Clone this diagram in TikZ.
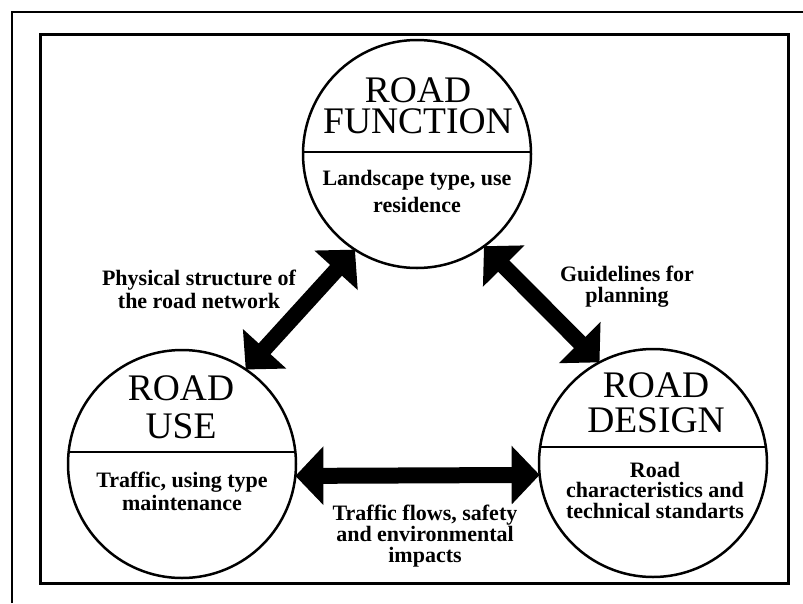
\documentclass[tikz,border=0pt]{standalone}
\usepackage{fontspec}
\setmainfont{Liberation Serif}
\usetikzlibrary{arrows.meta}
\tikzset{
  circ/.style={circle, draw, line width=2.5pt, minimum size=228pt, inner sep=0pt, outer sep=0pt},
  divider/.style={line width=2.2pt},
  titletext/.style={align=center, inner sep=0pt, anchor=base, font=\fontsize{37.5}{#1}\selectfont},
  bodytext/.style={align=center, inner sep=0pt, anchor=base, font=\fontsize{22}{#1}\selectfont\bfseries},
  bigarrow/.style={line width=16pt, {Triangle[length=28pt,width=57pt]}-{Triangle[length=28pt,width=57pt]}},
}
\begin{document}
\begin{tikzpicture}[x=1pt,y=-1pt]
\useasboundingbox (0,0) rectangle (803,603);
% frames
\draw[line width=2pt] (12,603) -- (12,12) -- (803,12);
\draw[line width=3pt] (40,34) rectangle (788,583);
% circles
\node[circ] (F) at (417,154) {};
\node[circ] (U) at (182,464) {};
\node[circ] (D) at (653,463) {};
\draw[divider] (F.179) -- (F.1);
\draw[divider] (U.174) -- (U.6);
\draw[divider] (D.172) -- (D.8);
% titles
\node[titletext=31] (Ft) at (418,133) {ROAD\\FUNCTION};
\node[titletext=38] (Ut) at (181,438) {ROAD\\USE};
\node[titletext=35] (Dt) at (656,432) {ROAD\\DESIGN};
% bodies
\node[bodytext=27] (Fb) at (417,212) {Landscape type, use\\residence};
\node[bodytext=23] (Ub) at (182,510) {Traffic, using type\\maintenance};
\node[bodytext=20.5] (Db) at (655,518) {Road\\characteristics and\\technical standarts};
% arrows
\draw[bigarrow] (U.56) -- (F.-123);
\draw[bigarrow] (F.-54) -- (D.118);
\draw[bigarrow] (U.-6) -- (D.186);
% labels
\node[bodytext=23] (L1) at (199,308) {Physical structure of\\the road network};
\node[bodytext=20.5] (L2) at (627,302) {Guidelines for\\planning};
\node[bodytext=21] (L3) at (425,562) {Traffic flows, safety\\and environmental\\impacts};
\end{tikzpicture}
\end{document}
